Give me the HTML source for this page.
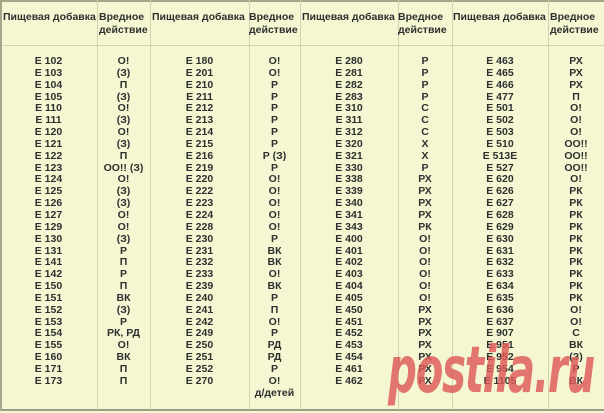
<!DOCTYPE html>
<html><head><meta charset="utf-8"><style>
html,body{margin:0;padding:0}
body{width:604px;height:413px;background:#f4f7d2;position:relative;overflow:hidden;font-family:"Liberation Sans","DejaVu Sans",sans-serif;color:#2f2f2f}
.v{position:absolute;top:0;width:1px;height:410px;background:#d2d4b0}
.h{position:absolute;left:0;width:604px;height:1px}
.hd{position:absolute;top:11px;font-weight:bold;font-size:10.5px;line-height:13px;white-space:nowrap}
.c{position:absolute;top:56px;font-weight:bold;font-size:10.5px;line-height:11.85px;text-align:center;white-space:nowrap}
.wm{position:absolute;left:388px;top:334px;font-family:"DejaVu Sans",sans-serif;font-weight:bold;font-style:italic;font-size:64px;color:rgba(222,88,88,0.82);transform:scaleX(0.63);transform-origin:0 0;letter-spacing:-2px;white-space:nowrap}
</style></head><body>
<div class="h" style="top:0;height:2px;background:#a5a78a"></div>
<div class="h" style="top:45px;background:#d2d4b0"></div>
<div class="h" style="top:409px;height:2px;background:#9a9c86"></div>
<div style="position:absolute;left:0;top:0;width:2px;height:411px;background:#a5a78a"></div>
<div class="v" style="left:97px"></div>
<div class="v" style="left:150px"></div>
<div class="v" style="left:249px"></div>
<div class="v" style="left:300px"></div>
<div class="v" style="left:398px"></div>
<div class="v" style="left:452px"></div>
<div class="v" style="left:548px"></div>

<div class="hd" style="left:3px">Пищевая добавка</div>
<div class="hd" style="left:99px">Вредное<br>действие</div>
<div class="hd" style="left:152px">Пищевая добавка</div>
<div class="hd" style="left:249px">Вредное<br>действие</div>
<div class="hd" style="left:302px">Пищевая добавка</div>
<div class="hd" style="left:398px">Вредное<br>действие</div>
<div class="hd" style="left:453px">Пищевая добавка</div>
<div class="hd" style="left:550px">Вредное<br>действие</div>

<div class="c" style="left:0;width:97px">E 102<br>E 103<br>E 104<br>E 105<br>E 110<br>E 111<br>E 120<br>E 121<br>E 122<br>E 123<br>E 124<br>E 125<br>E 126<br>E 127<br>E 129<br>E 130<br>E 131<br>E 141<br>E 142<br>E 150<br>E 151<br>E 152<br>E 153<br>E 154<br>E 155<br>E 160<br>E 171<br>E 173</div>
<div class="c" style="left:97px;width:53px">О!<br>(З)<br>П<br>(З)<br>О!<br>(З)<br>О!<br>(З)<br>П<br>ОО!! (З)<br>О!<br>(З)<br>(З)<br>О!<br>О!<br>(З)<br>Р<br>П<br>Р<br>П<br>ВК<br>(З)<br>Р<br>РК, РД<br>О!<br>ВК<br>П<br>П</div>
<div class="c" style="left:150px;width:99px">E 180<br>E 201<br>E 210<br>E 211<br>E 212<br>E 213<br>E 214<br>E 215<br>E 216<br>E 219<br>E 220<br>E 222<br>E 223<br>E 224<br>E 228<br>E 230<br>E 231<br>E 232<br>E 233<br>E 239<br>E 240<br>E 241<br>E 242<br>E 249<br>E 250<br>E 251<br>E 252<br>E 270</div>
<div class="c" style="left:249px;width:51px">О!<br>О!<br>Р<br>Р<br>Р<br>Р<br>Р<br>Р<br>Р (З)<br>Р<br>О!<br>О!<br>О!<br>О!<br>О!<br>Р<br>ВК<br>ВК<br>О!<br>ВК<br>Р<br>П<br>О!<br>Р<br>РД<br>РД<br>Р<br>О!<br>д/детей</div>
<div class="c" style="left:300px;width:98px">E 280<br>E 281<br>E 282<br>E 283<br>E 310<br>E 311<br>E 312<br>E 320<br>E 321<br>E 330<br>E 338<br>E 339<br>E 340<br>E 341<br>E 343<br>E 400<br>E 401<br>E 402<br>E 403<br>E 404<br>E 405<br>E 450<br>E 451<br>E 452<br>E 453<br>E 454<br>E 461<br>E 462</div>
<div class="c" style="left:398px;width:54px">Р<br>Р<br>Р<br>Р<br>С<br>С<br>С<br>Х<br>Х<br>Р<br>РХ<br>РХ<br>РХ<br>РХ<br>РК<br>О!<br>О!<br>О!<br>О!<br>О!<br>О!<br>РХ<br>РХ<br>РХ<br>РХ<br>РХ<br>РХ<br>РХ</div>
<div class="c" style="left:452px;width:96px">E 463<br>E 465<br>E 466<br>E 477<br>E 501<br>E 502<br>E 503<br>E 510<br>E 513E<br>E 527<br>E 620<br>E 626<br>E 627<br>E 628<br>E 629<br>E 630<br>E 631<br>E 632<br>E 633<br>E 634<br>E 635<br>E 636<br>E 637<br>E 907<br>E 951<br>E 952<br>E 954<br>E 1105</div>
<div class="c" style="left:548px;width:56px">РХ<br>РХ<br>РХ<br>П<br>О!<br>О!<br>О!<br>ОО!!<br>ОО!!<br>ОО!!<br>О!<br>РК<br>РК<br>РК<br>РК<br>РК<br>РК<br>РК<br>РК<br>РК<br>РК<br>О!<br>О!<br>С<br>ВК<br>(З)<br>Р<br>ВК</div>

<div class="wm">postila.ru</div>
</body></html>
